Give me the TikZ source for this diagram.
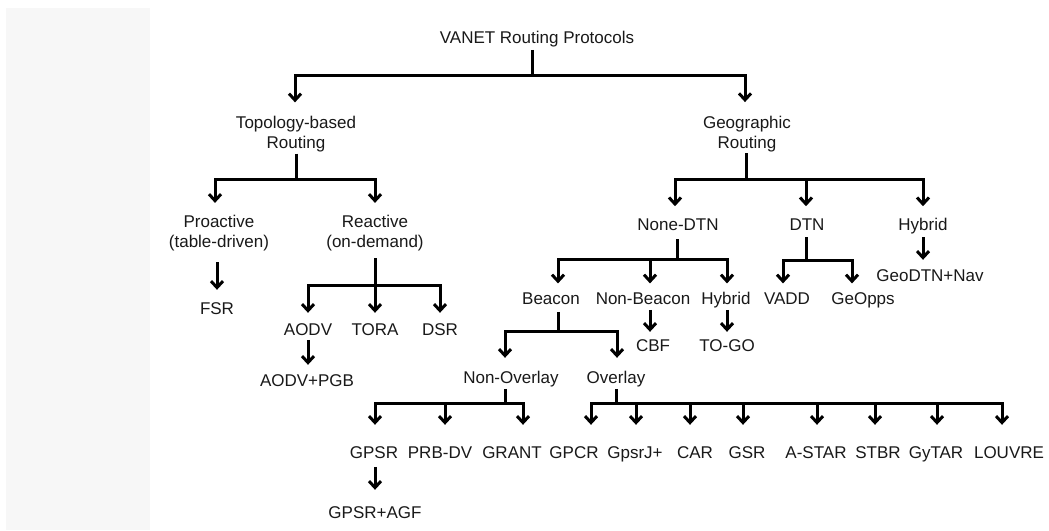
\documentclass[tikz,border=0pt]{standalone}
\usepackage{fontspec}
\setmainfont{Liberation Sans}
\usetikzlibrary{arrows.meta}
\begin{document}
\begin{tikzpicture}[x=1pt,y=-1pt,
  lbl/.style={font=\fontsize{17}{20}\selectfont, text=black!90, inner sep=1pt, text height=12.5pt, text depth=3.5pt},
  lbl2/.style={font=\fontsize{17}{20}\selectfont, text=black!90, inner sep=1pt, align=center},
  ln/.style={line width=3pt, black},
  arr/.style={ln, -{Straight Barb[length=6.5pt,width=12pt]}},
]
\fill[white] (0,0) rectangle (1049,530);
\fill[black!3] (6,8) rectangle (150,530);
\useasboundingbox (0,0) rectangle (1049,530);

% nodes
\node[lbl] (root) at (537,38.6) {VANET Routing Protocols};
\node[lbl2] (topo) at (296,134.5) {Topology-based\\Routing};
\node[lbl2] (geo) at (747,134.2) {Geographic\\Routing};
\node[lbl2] (pro) at (219,233) {Proactive\\(table-driven)};
\node[lbl2] (rea) at (375,233) {Reactive\\(on-demand)};
\node[lbl] (fsr) at (217,309.6) {FSR};
\node[lbl] (aodv) at (308,330.6) {AODV};
\node[lbl] (tora) at (375,330.6) {TORA};
\node[lbl] (dsr) at (440,330.6) {DSR};
\node[lbl] (pgb) at (307,381.6) {AODV+PGB};
\node[lbl] (ndtn) at (678,226) {None-DTN};
\node[lbl] (dtn) at (807,226) {DTN};
\node[lbl] (hyb1) at (923,226) {Hybrid};
\node[lbl] (bea) at (551,299.6) {Beacon};
\node[lbl] (nbea) at (643,299.6) {Non-Beacon};
\node[lbl] (hyb2) at (726,299.6) {Hybrid};
\node[lbl] (vadd) at (787,299.6) {VADD};
\node[lbl] (geop) at (863,299.6) {GeOpps};
\node[lbl] (gdtn) at (930,276.6) {GeoDTN+Nav};
\node[lbl] (cbf) at (653,346.6) {CBF};
\node[lbl] (togo) at (727,346.6) {TO-GO};
\node[lbl] (nov) at (511,378.6) {Non-Overlay};
\node[lbl] (ov) at (616,378.6) {Overlay};
\node[lbl] (gpsr) at (374,453.6) {GPSR};
\node[lbl] (prb) at (440,453.6) {PRB-DV};
\node[lbl] (grant) at (512,453.6) {GRANT};
\node[lbl] (gpcr) at (574,453.6) {GPCR};
\node[lbl] (gpsrj) at (635,453.6) {GpsrJ+};
\node[lbl] (car) at (695,453.6) {CAR};
\node[lbl] (gsr) at (747,453.6) {GSR};
\node[lbl] (astar) at (816,453.6) {A-STAR};
\node[lbl] (stbr) at (878,453.6) {STBR};
\node[lbl] (gytar) at (936,453.6) {GyTAR};
\node[lbl] (louvre) at (1009,453.6) {LOUVRE};
\node[lbl] (agf) at (375,513.6) {GPSR+AGF};

% root
\coordinate (b0) at (532,75);
\draw[ln, shorten <=2pt] ([xshift=-5pt]root.south) -- (b0);
\draw[arr, shorten >=13pt] (b0) -| ([xshift=-1pt]topo.north);
\draw[arr, shorten >=13pt] (b0) -| ([xshift=-2pt]geo.north);

% topology-based
\coordinate (b1) at (296,179);
\draw[ln] (topo.south) -- (b1);
\draw[arr, shorten >=11pt] (b1) -| ([xshift=-4pt]pro.north);
\draw[arr, shorten >=11pt] (b1) -| (rea.north);
\draw[arr, shorten <=10pt, shorten >=10.6pt] ([xshift=-2pt]pro.south) -- (fsr.north);

% reactive
\coordinate (b2) at (375,285);
\draw[arr, shorten <=6pt, shorten >=8.6pt] (rea.south) -- (tora.north);
\draw[arr, shorten >=8.6pt] (b2) -| (aodv.north);
\draw[arr, shorten >=8.6pt] (b2) -| (dsr.north);
\draw[arr, shorten >=7.6pt] (aodv.south) -- ([xshift=1pt]pgb.north);

% geographic
\coordinate (b3) at (746,179);
\draw[ln] ([xshift=-1pt]geo.south) -- (b3);
\draw[arr, shorten >=10.6pt] (b3) -| ([xshift=-3pt]ndtn.north);
\draw[arr, shorten >=10.6pt] (b3) -| ([xshift=-1pt]dtn.north);
\draw[arr, shorten >=10.6pt] (b3) -| (hyb1.north);

% none-DTN
\coordinate (b4) at (677,259);
\draw[ln, shorten <=4pt] ([xshift=-1pt]ndtn.south) -- (b4);
\draw[arr, shorten >=7pt] (b4) -| ([xshift=7pt]bea.north);
\draw[arr, shorten >=7pt] (b4) -| ([xshift=7pt]nbea.north);
\draw[arr, shorten >=7pt] (b4) -| ([xshift=1pt]hyb2.north);

% DTN
\coordinate (b5) at (806,260);
\draw[ln, shorten <=2pt] ([xshift=-1pt]dtn.south) -- (b5);
\draw[arr, shorten >=7pt] (b5) -| ([xshift=-4pt]vadd.north);
\draw[arr, shorten >=7pt] (b5) -| ([xshift=-11pt]geop.north);

% hybrid (geographic)
\draw[arr, shorten <=2pt, shorten >=7.6pt] (hyb1.south) -- ([xshift=-7pt]gdtn.north);

% beacon
\coordinate (b6) at (558,331);
\draw[ln, shorten <=3pt] ([xshift=7pt]bea.south) -- (b6);
\draw[arr, shorten >=11.6pt] (b6) -| ([xshift=-6pt]nov.north);
\draw[arr, shorten >=11.6pt] (b6) -| ([xshift=1pt]ov.north);
\draw[arr, shorten <=1pt, shorten >=5.6pt] ([xshift=7pt]nbea.south) -- ([xshift=-3pt]cbf.north);
\draw[arr, shorten <=1pt, shorten >=5.6pt] ([xshift=1pt]hyb2.south) -- (togo.north);

% non-overlay
\coordinate (b7) at (505,403);
\draw[ln, shorten <=1pt] ([xshift=-6pt]nov.south) -- (b7);
\draw[arr, shorten >=19.6pt] (b7) -| ([xshift=1pt]gpsr.north);
\draw[arr, shorten >=19.6pt] (b7) -| ([xshift=5pt]prb.north);
\draw[arr, shorten >=19.6pt] (b7) -| ([xshift=11pt]grant.north);
\draw[arr, shorten <=4pt, shorten >=14.6pt] ([xshift=1pt]gpsr.south) -- (agf.north);

% overlay
\coordinate (b8) at (616,403);
\draw[ln, shorten <=1pt] (ov.south) -- (b8);
\draw[arr, shorten >=19.6pt] (b8) -| ([xshift=17pt]gpcr.north);
\draw[arr, shorten >=19.6pt] (b8) -| ([xshift=1pt]gpsrj.north);
\draw[arr, shorten >=19.6pt] (b8) -| ([xshift=-5pt]car.north);
\draw[arr, shorten >=19.6pt] (b8) -| ([xshift=-4pt]gsr.north);
\draw[arr, shorten >=19.6pt] (b8) -| ([xshift=1pt]astar.north);
\draw[arr, shorten >=19.6pt] (b8) -| ([xshift=-3pt]stbr.north);
\draw[arr, shorten >=19.6pt] (b8) -| ([xshift=1pt]gytar.north);
\draw[arr, shorten >=19.6pt] (b8) -| ([xshift=-7pt]louvre.north);
\end{tikzpicture}
\end{document}
